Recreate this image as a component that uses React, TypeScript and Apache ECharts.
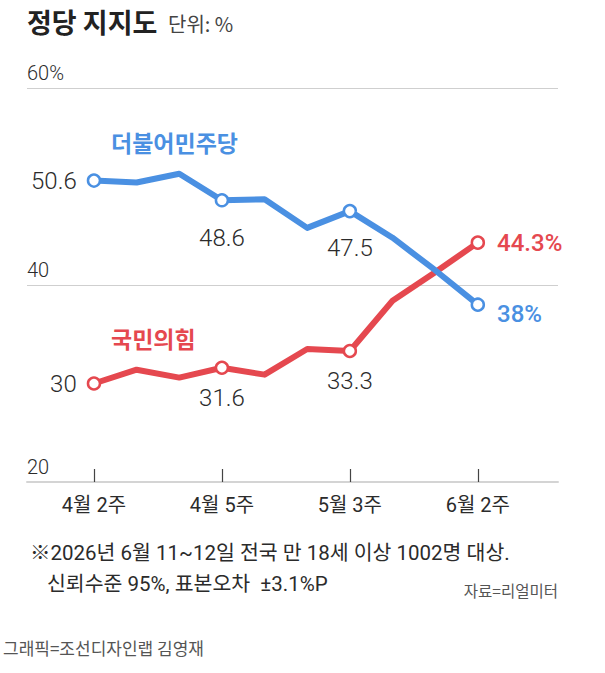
import React, { useEffect, useRef } from 'react';
import * as echarts from 'echarts';

// weekly survey points
const categories = [
  '4월 2주', '4월 3주', '4월 4주', '4월 5주', '5월 1주',
  '5월 2주', '5월 3주', '5월 4주', '6월 1주', '6월 2주',
];
const democratic = [50.6, 50.4, 51.3, 48.6, 48.7, 45.8, 47.5, 44.8, 41.5, 38];
const peoplePower = [30, 31.4, 30.6, 31.6, 30.9, 33.5, 33.3, 38.4, 41.3, 44.3];
const labelledIdx = [0, 3, 6, 9];
const yTicks = [20, 40, 60];

const BLUE = '#4a90e2';
const RED = '#e5484f';
const TEXT = '#2b2b2b';
const NUM_FONT = 'Roboto, "Noto Sans CJK KR", sans-serif';
const KR_FONT = '"Noto Sans CJK KR", Roboto, sans-serif';

const numLabel = {
  show: true,
  color: TEXT,
  fontSize: 24,
  fontWeight: 300,
  fontFamily: NUM_FONT,
};

const makeData = (values: number[], color: string, belowDist: number, lastOffset: number) =>
  values.map((v, i) => {
    const key = labelledIdx.includes(i);
    let label: any = { show: false };
    if (key) {
      if (i === 0) {
        label = { ...numLabel, position: 'left', distance: 10 };
      } else if (i === values.length - 1) {
        label = {
          ...numLabel,
          position: 'right',
          distance: 12,
          offset: [0, lastOffset],
          color,
          fontWeight: 500,
          formatter: (p: any) => p.value[1] + '%',
        };
      } else {
        label = { ...numLabel, position: 'bottom', distance: belowDist };
      }
    }
    return { value: [i, v], symbol: key ? 'circle' : 'none', label };
  });

const App: React.FC = () => {
  const chartRef = useRef<HTMLDivElement>(null);

  useEffect(() => {
    if (!chartRef.current) return;
    const chart = echarts.init(chartRef.current, null, { renderer: 'svg' });

    const lineSeries = (name: string, values: number[], color: string, belowDist: number, lastOffset: number, z: number) => ({
      name,
      type: 'line',
      z,
      data: makeData(values, color, belowDist, lastOffset),
      symbolSize: 12,
      showAllSymbol: true,
      lineStyle: { color, width: 6, cap: 'round', join: 'round' },
      itemStyle: { color: '#fff', borderColor: color, borderWidth: 2.5 },
      label: { formatter: (p: any) => String(p.value[1]) },
      emphasis: { disabled: true },
    });

    const option: any = {
      animation: false,
      grid: { left: 27, right: 47, top: 88, bottom: 191, containLabel: false },
      xAxis: {
        type: 'value',
        min: -1.57,
        max: 10.88,
        splitLine: { show: false },
        axisLine: { onZero: false, lineStyle: { color: '#d4d4d4', width: 2 } },
        axisTick: {
          show: true,
          inside: true,
          length: 13,
          customValues: labelledIdx,
          lineStyle: { color: '#444', width: 1.2 },
        },
        axisLabel: {
          customValues: labelledIdx,
          formatter: (v: number) => categories[v] ?? '',
          margin: 13,
          fontSize: 20,
          color: TEXT,
          fontFamily: NUM_FONT,
        },
      },
      yAxis: {
        type: 'value',
        min: yTicks[0],
        max: yTicks[yTicks.length - 1],
        interval: yTicks[1] - yTicks[0],
        axisLine: { show: false },
        axisTick: { show: false },
        splitLine: { lineStyle: { color: '#cfcfcf', width: 1 } },
        axisLabel: {
          inside: true,
          margin: 0,
          verticalAlign: 'bottom',
          padding: [0, 0, 5, 0],
          fontSize: 20,
          fontWeight: 300,
          color: TEXT,
          fontFamily: NUM_FONT,
          formatter: (v: number) => (v === yTicks[yTicks.length - 1] ? v + '%' : String(v)),
        },
      },
      series: [
        lineSeries('국민의힘', peoplePower, RED, 11, 0, 2),
        lineSeries('더불어민주당', democratic, BLUE, 18, 9, 3),
      ],
      graphic: [
        {
          type: 'text', left: 27, top: 8,
          style: { text: '정당 지지도', fontSize: 27, fontWeight: 'bold', fill: '#222', fontFamily: KR_FONT },
        },
        {
          type: 'text', left: 168, top: 13,
          style: { text: '단위: %', fontSize: 20, fill: '#444', fontFamily: KR_FONT },
        },
        {
          type: 'text', left: 111, top: 130,
          style: { text: '더불어민주당', fontSize: 23, fontWeight: 'bold', fill: BLUE, fontFamily: KR_FONT },
        },
        {
          type: 'text', left: 111, top: 326,
          style: { text: '국민의힘', fontSize: 23, fontWeight: 'bold', fill: RED, fontFamily: KR_FONT },
        },
        {
          type: 'text', left: 30, top: 543,
          style: { text: '※2026년 6월 11~12일 전국 만 18세 이상 1002명 대상.', fontSize: 20.5, fill: TEXT, fontFamily: NUM_FONT },
        },
        {
          type: 'text', left: 47, top: 574,
          style: { text: '신뢰수준 95%, 표본오차  ±3.1%P', fontSize: 20.5, fill: TEXT, fontFamily: NUM_FONT },
        },
        {
          type: 'text', right: 47, top: 582,
          style: { text: '자료=리얼미터', fontSize: 15.5, fill: '#555', fontFamily: KR_FONT },
        },
        {
          type: 'text', left: 3, top: 639,
          style: { text: '그래픽=조선디자인랩 김영재', fontSize: 17, fill: '#555', fontFamily: KR_FONT },
        },
      ],
    };

    chart.setOption(option);
    return () => {
      chart.dispose();
    };
  }, []);

  return (
    <div
      ref={chartRef}
      style={{ position: 'fixed', left: 0, top: 0, width: '605px', height: '673px', background: '#fff' }}
    />
  );
};

export default App;
